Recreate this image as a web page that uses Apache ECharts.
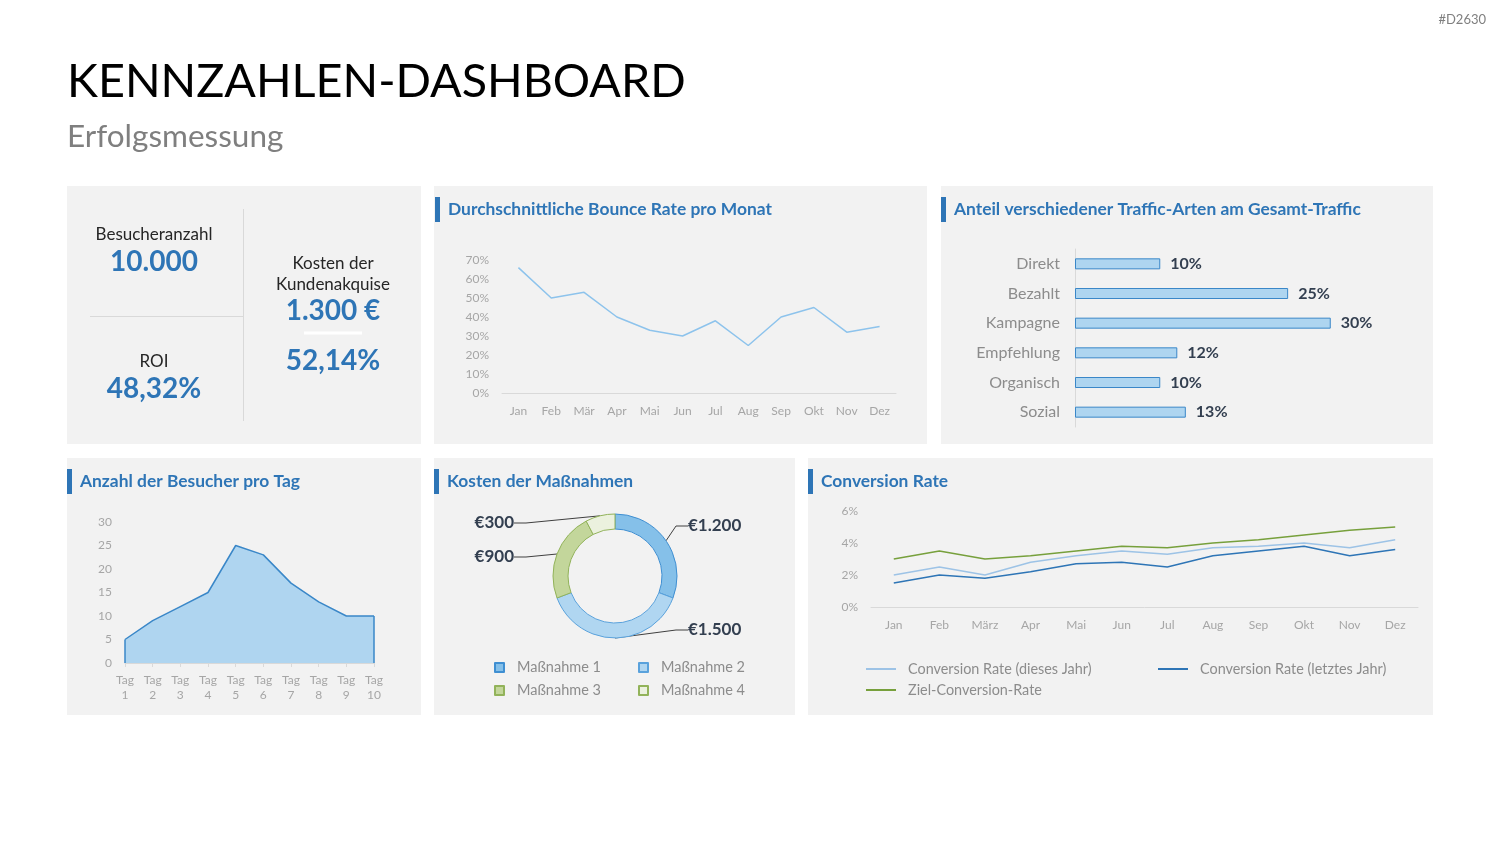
<!DOCTYPE html>
<html>
<head>
<meta charset="utf-8">
<script src="https://cdn.jsdelivr.net/npm/echarts@6/dist/echarts.min.js"></script>
<style>
html,body{margin:0;padding:0;background:#fff;}
#c{width:1500px;height:844px;}
</style>
</head>
<body>
<div id="c"></div>
<script>
// ---------- DATA ----------
const pageTitle = 'KENNZAHLEN-DASHBOARD';
const pageSubtitle = 'Erfolgsmessung';
const docId = '#D2630';

const kpiVisitorsLabel = 'Besucheranzahl';
const kpiVisitorsValue = '10.000';
const kpiRoiLabel = 'ROI';
const kpiRoiValue = '48,32%';
const kpiCacLabel = ['Kosten der', 'Kundenakquise'];
const kpiCacValue = '1.300 €';
const kpiCacPct = '52,14%';

const bounceTitle = 'Durchschnittliche Bounce Rate pro Monat';
const bounceMonths = ['Jan','Feb','Mär','Apr','Mai','Jun','Jul','Aug','Sep','Okt','Nov','Dez'];
const bounceRate = [66,50,53,40,33,30,38,25,40,45,32,35];

const trafficTitle = 'Anteil verschiedener Traffic-Arten am Gesamt-Traffic';
const trafficTypes = ['Direkt','Bezahlt','Kampagne','Empfehlung','Organisch','Sozial'];
const trafficShare = [10,25,30,12,10,13];

const visitorsTitle = 'Anzahl der Besucher pro Tag';
const visitorDays = ['Tag 1','Tag 2','Tag 3','Tag 4','Tag 5','Tag 6','Tag 7','Tag 8','Tag 9','Tag 10'];
const visitorsPerDay = [5,9,12,15,25,23,17,13,10,10];

const costTitle = 'Kosten der Maßnahmen';
const measureNames = ['Maßnahme 1','Maßnahme 2','Maßnahme 3','Maßnahme 4'];
const measureCosts = [1200,1500,900,300];

const convTitle = 'Conversion Rate';
const convMonths = ['Jan','Feb','März','Apr','Mai','Jun','Jul','Aug','Sep','Okt','Nov','Dez'];
const convSeriesNames = ['Conversion Rate (dieses Jahr)','Conversion Rate (letztes Jahr)','Ziel-Conversion-Rate'];
const convThisYear = [2.0,2.5,2.0,2.8,3.2,3.5,3.3,3.7,3.8,4.0,3.7,4.2];
const convLastYear = [1.5,2.0,1.8,2.2,2.7,2.8,2.5,3.2,3.5,3.8,3.2,3.6];
const convTarget   = [3.0,3.5,3.0,3.2,3.5,3.8,3.7,4.0,4.2,4.5,4.8,5.0];

// ---------- STYLE ----------
const FONT = 'Lato, "Open Sans", sans-serif';
const BLUE = '#2e75b6';
const PANEL = '#f2f2f2';
const AXISGRAY = '#a6a6a6';
const LINEGRAY = '#d9d9d9';
const DARK = '#333f50';

const measureColors = [
  {fill:'#85c0e9', border:'#3f8fd2'},
  {fill:'#b0d6f1', border:'#5aa2dc'},
  {fill:'#c3d69b', border:'#92b35a'},
  {fill:'#ebf1de', border:'#92b35a'}
];
const pieLabelPos = [
  {x:684, y:526, align:'left'},
  {x:684, y:630, align:'left'},
  {x:518, y:557, align:'right'},
  {x:518, y:523, align:'right'}
];
const convColors = ['#9dc3e6', '#2e75b6', '#77a03c'];

function txt(text, x, y, size, color, opts) {
  opts = opts || {};
  return {
    type:'text', z: 5,
    style:{
      text, x, y,
      fill: color,
      font: (opts.weight || 'normal') + ' ' + size + 'px ' + FONT,
      textAlign: opts.align || 'left',
      textVerticalAlign: 'middle'
    }
  };
}
function panel(x, y, w, h) {
  return {type:'rect', z:-10, shape:{x, y, width:w, height:h}, style:{fill:PANEL}};
}
function cardTitle(text, x, y) {
  return [
    {type:'rect', z:5, shape:{x:x, y:y-12, width:5, height:25}, style:{fill:BLUE}},
    txt(text, x+13, y, 17.4, BLUE, {weight:'bold'})
  ];
}

const graphics = [
  txt(pageTitle, 67, 82, 46.7, '#000000'),
  txt(pageSubtitle, 67, 137, 31.5, '#7f7f7f'),
  txt(docId, 1486, 20, 13, '#7f7f7f', {align:'right'}),
  panel(67,186,354,258), panel(434,186,493,258), panel(941,186,492,258),
  panel(67,458,354,257), panel(434,458,361,257), panel(808,458,625,257),
  ...cardTitle(bounceTitle, 435, 209),
  ...cardTitle(trafficTitle, 941, 209),
  ...cardTitle(visitorsTitle, 67, 481),
  ...cardTitle(costTitle, 434, 481),
  ...cardTitle(convTitle, 808, 481),
  // KPI block
  {type:'line', z:5, shape:{x1:243.5, y1:209, x2:243.5, y2:421}, style:{stroke:LINEGRAY, lineWidth:1}},
  {type:'line', z:5, shape:{x1:90, y1:316.5, x2:243, y2:316.5}, style:{stroke:LINEGRAY, lineWidth:1}},
  {type:'line', z:5, shape:{x1:304, y1:333, x2:362, y2:333}, style:{stroke:'#ffffff', lineWidth:3}},
  txt(kpiVisitorsLabel, 154, 235, 17, '#262626', {align:'center'}),
  txt(kpiVisitorsValue, 154, 262, 28, BLUE, {align:'center', weight:'bold'}),
  txt(kpiRoiLabel, 154, 362, 17, '#262626', {align:'center'}),
  txt(kpiRoiValue, 154, 389, 28, BLUE, {align:'center', weight:'bold'}),
  txt(kpiCacLabel[0], 333, 264, 17, '#262626', {align:'center'}),
  txt(kpiCacLabel[1], 333, 285, 17, '#262626', {align:'center'}),
  txt(kpiCacValue, 333, 311, 28, BLUE, {align:'center', weight:'bold'}),
  txt(kpiCacPct, 333, 361, 28, BLUE, {align:'center', weight:'bold'})
];

const axisLbl = {color: AXISGRAY, fontSize: 12, fontFamily: FONT};

function pieLegend(i, left, top) {
  return {
    data:[measureNames[i]], left, top, orient:'horizontal', padding:0,
    icon:'rect', itemWidth:9, itemHeight:9,
    textStyle:{color:'#8c8c8c', fontSize:14.5, fontFamily:FONT, padding:[0,0,0,8]},
    selectedMode:false
  };
}
function convLegend(i, left, top) {
  return {
    data:[convSeriesNames[i]], left, top, orient:'horizontal', padding:0,
    icon:'rect', itemWidth:30, itemHeight:2,
    textStyle:{color:'#8c8c8c', fontSize:14.4, fontFamily:FONT, padding:[0,0,0,7]},
    selectedMode:false
  };
}

const option = {
  backgroundColor:'#ffffff',
  animation:false,
  textStyle:{fontFamily:FONT},
  graphic: graphics,
  legend: [
    pieLegend(0, 494, 660), pieLegend(1, 638, 660),
    pieLegend(2, 494, 683), pieLegend(3, 638, 683),
    convLegend(0, 866, 662), convLegend(1, 1158, 662), convLegend(2, 866, 683)
  ],
  grid: [
    {left:502, top:260, width:394, height:133},
    {left:1075, top:249, width:341, height:178},
    {left:125, top:522, width:249, height:141},
    {left:871, top:511, width:547, height:96}
  ],
  xAxis: [
    {gridIndex:0, type:'category', data:bounceMonths, boundaryGap:true,
     axisLine:{lineStyle:{color:LINEGRAY}}, axisTick:{show:false},
     axisLabel:Object.assign({margin:12}, axisLbl)},
    {gridIndex:1, type:'value', min:0, max:40, show:false},
    {gridIndex:2, type:'category', data:visitorDays, boundaryGap:false,
     axisLine:{lineStyle:{color:LINEGRAY}}, axisTick:{show:true, length:4, lineStyle:{color:LINEGRAY}},
     axisLabel:Object.assign({margin:10, lineHeight:15, interval:0, formatter:v => v.replace(' ', '\n')}, axisLbl)},
    {gridIndex:3, type:'category', data:convMonths, boundaryGap:true,
     axisLine:{lineStyle:{color:LINEGRAY}}, axisTick:{show:false},
     axisLabel:Object.assign({margin:12}, axisLbl)}
  ],
  yAxis: [
    {gridIndex:0, type:'value', min:0, max:70, interval:10,
     axisLine:{show:false}, axisTick:{show:false}, splitLine:{show:false},
     axisLabel:Object.assign({margin:13, formatter:'{value}%'}, axisLbl)},
    {gridIndex:1, type:'category', data:trafficTypes, inverse:true,
     axisLine:{show:true, lineStyle:{color:LINEGRAY}}, axisTick:{show:false},
     axisLabel:{color:'#8c8c8c', fontSize:16, fontFamily:FONT, margin:15}},
    {gridIndex:2, type:'value', min:0, max:30, interval:5,
     axisLine:{show:false}, axisTick:{show:false}, splitLine:{show:false},
     axisLabel:Object.assign({margin:13}, axisLbl)},
    {gridIndex:3, type:'value', min:0, max:6, interval:2,
     axisLine:{show:false}, axisTick:{show:false}, splitLine:{show:false},
     axisLabel:Object.assign({margin:13, formatter:'{value}%'}, axisLbl)}
  ],
  series: [
    {type:'line', xAxisIndex:0, yAxisIndex:0, data:bounceRate, showSymbol:false,
     lineStyle:{color:'#8dc3ec', width:1.5}, itemStyle:{color:'#8dc3ec'}},
    {type:'bar', xAxisIndex:1, yAxisIndex:1, data:trafficShare, barWidth:11,
     itemStyle:{color:'#aed5f0', borderColor:'#3a87c8', borderWidth:1},
     label:{show:true, position:'right', distance:10, formatter:'{c}%',
            color:DARK, fontSize:16, fontWeight:'bold', fontFamily:FONT}},
    {type:'line', xAxisIndex:2, yAxisIndex:2, data:visitorsPerDay, showSymbol:false,
     lineStyle:{color:'#3a87c8', width:1.5}, itemStyle:{color:'#3a87c8'},
     areaStyle:{color:'#afd5f0', opacity:1},
     markLine:{silent:true, symbol:'none', label:{show:false},
       lineStyle:{color:'#3a87c8', width:1.5, type:'solid'},
       data:[
         [{coord:[visitorDays[0], 0]}, {coord:[visitorDays[0], visitorsPerDay[0]]}],
         [{coord:[visitorDays[visitorDays.length-1], 0]}, {coord:[visitorDays[visitorDays.length-1], visitorsPerDay[visitorsPerDay.length-1]]}]
       ]}},
    {type:'pie', center:[615, 576], radius:[47, 62], startAngle:90, clockwise:true,
     data: measureNames.map((n, i) => ({name:n, value:measureCosts[i],
        itemStyle:{color:measureColors[i].fill, borderColor:measureColors[i].border, borderWidth:1}})),
     label:{show:true, position:'outside', formatter:p => '€' + p.value.toLocaleString('de-DE'),
            color:DARK, fontSize:17, fontWeight:'bold', fontFamily:FONT, padding:[0,4]},
     labelLine:{show:true, length:8, length2:12, lineStyle:{color:'#404040', width:1}},
     labelLayout: p => {
       const q = pieLabelPos[p.dataIndex];
       return {x:q.x, y:q.y, align:q.align, verticalAlign:'middle'};
     },
     emphasis:{disabled:true}},
    {type:'line', name:convSeriesNames[0], xAxisIndex:3, yAxisIndex:3, data:convThisYear, showSymbol:false,
     lineStyle:{color:convColors[0], width:1.5}, itemStyle:{color:convColors[0]}},
    {type:'line', name:convSeriesNames[1], xAxisIndex:3, yAxisIndex:3, data:convLastYear, showSymbol:false,
     lineStyle:{color:convColors[1], width:1.5}, itemStyle:{color:convColors[1]}},
    {type:'line', name:convSeriesNames[2], xAxisIndex:3, yAxisIndex:3, data:convTarget, showSymbol:false,
     lineStyle:{color:convColors[2], width:1.5}, itemStyle:{color:convColors[2]}}
  ]
};

const chart = echarts.init(document.getElementById('c'), null, {renderer:'canvas'});
chart.setOption(option);
</script>
</body>
</html>
